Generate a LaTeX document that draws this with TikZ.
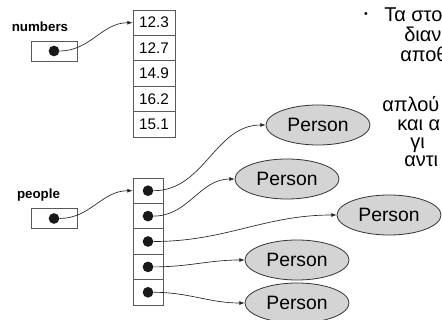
\documentclass[tikz,border=0pt]{standalone}
\usepackage{fontspec}
\setmainfont{Liberation Sans}
\usetikzlibrary{shapes.geometric,arrows.meta}

\begin{document}
\begin{tikzpicture}[x=0.75pt,y=0.75pt,yscale=-1,xscale=1,
  valcell/.style={draw=black!65,line width=0.6pt,minimum width=31.5pt,minimum height=19pt,inner sep=0pt,font=\fontsize{11.5}{13}\selectfont},
  refcell/.style={draw=black!65,line width=0.6pt,minimum width=22.5pt,minimum height=19pt,inner sep=0pt},
  varbox/.style={draw=black!65,line width=0.6pt,minimum width=34.5pt,minimum height=15pt,inner sep=0pt},
  blob/.style={circle,fill=black!90,minimum size=8pt,inner sep=0pt},
  person/.style={ellipse,draw=black!80,fill=black!17,line width=0.6pt,minimum width=78pt,minimum height=30pt,inner sep=0pt,font=\fontsize{14.5}{16}\selectfont},
  varname/.style={anchor=base,inner sep=0pt,font=\bfseries\fontsize{10}{12}\selectfont},
  note/.style={anchor=base west,inner sep=0pt,font=\fontsize{15}{18}\selectfont},
  link/.style={line width=0.5pt,black!85,-{Latex[length=4pt,width=3pt]}}
]
%set diagram frame 442 x 320
\useasboundingbox (0,0) rectangle (442,320);
\clip (0,0) rectangle (442,320);

% Array of numbers
\foreach \v [count=\i] in {12.3,12.7,14.9,16.2,15.1}
  \node [valcell] (n\i) at (154,{22.7+25.4*(\i-1)}) {\v};

% Array of references
\foreach \i in {1,...,5} {
  \node [refcell] (c\i) at (148,{190.7+25.4*(\i-1)}) {};
  \node [blob] (d\i) at (c\i) {};
}

% Variables
\node [varname] (nlabel) at (40,32) {numbers};
\node [varbox] (nbox) at (54,51) {};
\node [blob] (nptr) at (nbox) {};
\node [varname] (plabel) at (38.5,199) {people};
\node [varbox] (pbox) at (54,218.5) {};
\node [blob] (pptr) at (pbox) {};

% Objects
\node [person] (p1) at (318,125) {Person};
\node [person] (p2) at (287,179) {Person};
\node [person] (p3) at (389,215) {Person};
\node [person] (p4) at (297,260) {Person};
\node [person] (p5) at (297,303) {Person};

% Curved links
\draw [link] (nptr.east) to[out=0,in=180] (n1.west);
\draw [link] (pptr.east) to[out=0,in=180] (c1.west);
\foreach \i in {1,...,5}
  \draw [link] (d\i.east) to[out=0,in=180] (p\i.west);

% Text Node
\node [inner sep=0pt,font=\fontsize{8}{8}\selectfont] (bul) at (366,15) {•};
\node [note] (t1) at (384,22) {Τα στο};
\node [note] (t2) at (404,42) {διαν};
\node [note] (t3) at (400,62) {αποθ};
\node [note] (t4) at (382,112) {απλού};
\node [note] (t5) at (397,131) {και α};
\node [note] (t6) at (410,149) {γι};
\node [note] (t7) at (404,167) {αντι};

\end{tikzpicture}
\end{document}
